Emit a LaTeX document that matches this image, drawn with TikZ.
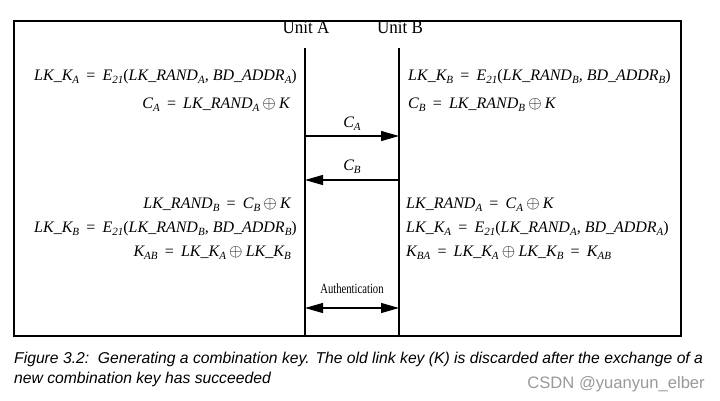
\documentclass[tikz,border=0pt]{standalone}
\usepackage{fontspec}
\usepackage{amsmath}
\setmainfont{Liberation Serif}
\newfontfamily\capfont{Liberation Sans}
\usetikzlibrary{arrows.meta}
\newcommand{\ssub}[1]{\raisebox{-3.5pt}{\fontsize{11}{12}\selectfont\itshape #1}}
\newcommand{\xo}{\hspace{0.2em}$\oplus$\hspace{0.2em}}
\newcommand{\eqs}{\hspace{0.45em}{\upshape=}\hspace{0.45em}}
\begin{document}
\begin{tikzpicture}[x=1pt,y=-1pt,
  eq/.style={inner sep=0pt,font=\fontsize{16}{18}\selectfont\itshape},
  unit/.style={inner sep=0pt,font=\fontsize{18.5}{20}\selectfont},
  lifeline/.style={line width=1.1pt},
  msg/.style={line width=1.1pt,-{Triangle[length=18pt,width=10pt]}},
  dmsg/.style={line width=1.1pt,{Triangle[length=18pt,width=10pt]}-{Triangle[length=18pt,width=10pt]}},
  lbl/.style={inner sep=0pt,font=\fontsize{16}{18}\selectfont\itshape},
  captext/.style={inner sep=0pt,anchor=base west,font=\fontsize{15.7}{17}\selectfont\capfont\itshape},
  wm/.style={inner sep=0pt,anchor=base east,text=gray!80,font=\fontsize{16.6}{18}\selectfont\capfont}]
\useasboundingbox (0,0) rectangle (720,400);
\draw[line width=1.4pt] (14,21) rectangle (681,336);
% units
\node[unit,anchor=base] (ua) at (306,33) {\scalebox{0.92}[1]{Unit A}};
\node[unit,anchor=base] (ub) at (400,33) {\scalebox{0.92}[1]{Unit B}};
\coordinate (at) at (305,48); \coordinate (ab) at (305,336);
\coordinate (bt) at (399,48); \coordinate (bb) at (399,336);
\draw[lifeline] (at) -- (ab);
\draw[lifeline] (bt) -- (bb);
% upper left
\node[eq,anchor=base east] (l1) at (297,80) {LK\_K\ssub{A}\eqs E\ssub{21}{\upshape(}LK\_RAND\ssub{A}, BD\_ADDR\ssub{A}{\upshape)}};
\node[eq,anchor=base east] (l2) at (290,108) {C\ssub{A}\eqs LK\_RAND\ssub{A}\xo K};
% upper right
\node[eq,anchor=base west] (r1) at (408,80) {LK\_K\ssub{B}\eqs E\ssub{21}{\upshape(}LK\_RAND\ssub{B}, BD\_ADDR\ssub{B}{\upshape)}};
\node[eq,anchor=base west] (r2) at (408,108) {C\ssub{B}\eqs LK\_RAND\ssub{B}\xo K};
% messages
\coordinate (ca1) at (305,136); \coordinate (ca2) at (399,136);
\draw[msg] (ca1) -- (ca2);
\node[lbl,anchor=base] (cal) at (352,127) {C\ssub{A}};
\coordinate (cb1) at (399,180); \coordinate (cb2) at (305,180);
\draw[msg] (cb1) -- (cb2);
\node[lbl,anchor=base] (cbl) at (352,170) {C\ssub{B}};
% lower left
\node[eq,anchor=base east] (l3) at (291,208) {LK\_RAND\ssub{B}\eqs C\ssub{B}\xo K};
\node[eq,anchor=base east] (l4) at (297,232) {LK\_K\ssub{B}\eqs E\ssub{21}{\upshape(}LK\_RAND\ssub{B}, BD\_ADDR\ssub{B}{\upshape)}};
\node[eq,anchor=base east] (l5) at (291,256) {K\ssub{AB}\eqs LK\_K\ssub{A}\xo LK\_K\ssub{B}};
% lower right
\node[eq,anchor=base west] (r3) at (406,208) {LK\_RAND\ssub{A}\eqs C\ssub{A}\xo K};
\node[eq,anchor=base west] (r4) at (406,232) {LK\_K\ssub{A}\eqs E\ssub{21}{\upshape(}LK\_RAND\ssub{A}, BD\_ADDR\ssub{A}{\upshape)}};
\node[eq,anchor=base west] (r5) at (406,256) {K\ssub{BA}\eqs LK\_K\ssub{A}\xo LK\_K\ssub{B}\eqs K\ssub{AB}};
% authentication
\node[inner sep=0pt,anchor=base,font=\fontsize{14}{16}\selectfont] (auth) at (352,293) {\scalebox{0.76}[1]{Authentication}};
\coordinate (au1) at (305,308); \coordinate (au2) at (399,308);
\draw[dmsg] (au1) -- (au2);
% caption
\node[captext] (c1) at (14,363) {Figure 3.2:\ \ Generating a combination key. The old link key (K) is discarded after the exchange of a};
\node[captext] (c2) at (14,383) {new combination key has succeeded};
\node[wm] (w) at (705,388) {CSDN @yuanyun\_elber};
\end{tikzpicture}
\end{document}
